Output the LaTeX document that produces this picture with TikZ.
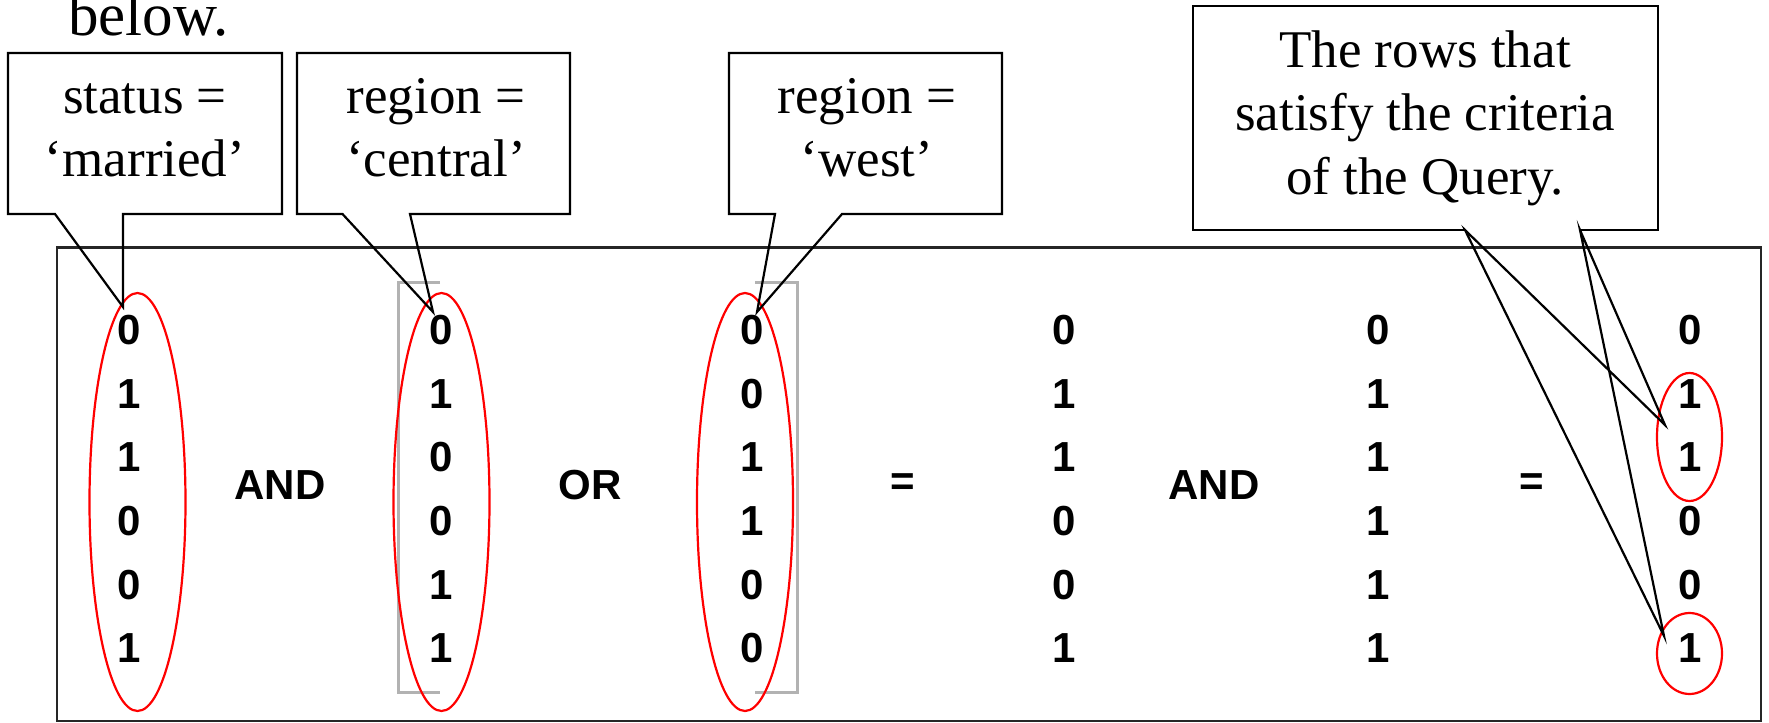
\documentclass[tikz,border=0pt]{standalone}
\usepackage{fontspec}
\setmainfont{Liberation Serif}
\newfontfamily\arialfont{Liberation Sans}
\begin{document}
\begin{tikzpicture}[x=0.5pt,y=-0.5pt,
  box/.style={draw=black, line width=1.1pt, line join=miter},
  frame/.style={draw=black!85, line width=1.3pt},
  hl/.style={draw=red, line width=1.1pt},
  brk/.style={draw=black!30, line width=1.5pt},
  dig/.style={font=\arialfont\bfseries\fontsize{21}{25}\selectfont, inner sep=0pt},
  lbl/.style={font=\fontsize{26.5}{31.8}\selectfont, inner sep=0pt, anchor=base}
]
\useasboundingbox (0,0) rectangle (1769,723);

% heading fragment
\node[font=\fontsize{30.5}{36}\selectfont, anchor=base west, inner sep=0pt] (below) at (68,35) {below.};

% main frame
\draw[frame] (57,247.5) rectangle (1761,721);

% gray brackets
\draw[brk] (440,282) -- (398,282) -- (398,692) -- (440,692);
\draw[brk] (755,282) -- (797,282) -- (797,692) -- (755,692);

% digit columns
\foreach \c/\x/\vals in {1/129/{0,1,1,0,0,1}, 2/441/{0,1,0,0,1,1}, 3/752/{0,0,1,1,0,0}, 4/1064/{0,1,1,0,0,1}, 5/1378/{0,1,1,1,1,1}, 6/1690/{0,1,1,0,0,1}}
  \foreach \v [count=\r] in \vals
    \node[dig] (d\c-\r) at (\x,{330+63.66*(\r-1)}) {\v};

% operators
\node[dig] (and1) at (280,485) {AND};
\node[dig] (or1) at (590,485) {OR};
\node[dig] (eq1) at (903,485) {=};
\node[dig] (and2) at (1214,485) {AND};
\node[dig] (eq2) at (1532,485) {=};

% red ellipses
\draw[hl] (137.5,502) ellipse [x radius=48, y radius=209];
\draw[hl] (441.5,502) ellipse [x radius=48, y radius=209];
\draw[hl] (745,502) ellipse [x radius=48, y radius=209];
\draw[hl] (1689.5,437) ellipse [x radius=32.5, y radius=64];
\draw[hl] (1689.5,653.5) ellipse [x radius=32.5, y radius=40.5];

% pointer tips
\coordinate (t1) at (123,307);
\coordinate (t2) at (433,312);
\coordinate (t3) at (757,312);
\coordinate (t4a) at (1665,425);
\coordinate (t4b) at (1664,636);

% callouts
\draw[box] (8,53) -- (282,53) -- (282,214) -- (123,214) -- (t1) -- (55,214) -- (8,214) -- cycle;
\node[lbl] (c1) at (145,113) {\begin{tabular}[t]{@{}c@{}}status =\\ ‘married’\end{tabular}};

\draw[box] (297,53) -- (570,53) -- (570,214) -- (410,214) -- (t2) -- (342.5,214) -- (297,214) -- cycle;
\node[lbl] (c2) at (436,113) {\begin{tabular}[t]{@{}c@{}}region =\\ ‘central’\end{tabular}};

\draw[box] (729,53) -- (1002,53) -- (1002,214) -- (842,214) -- (t3) -- (775,214) -- (729,214) -- cycle;
\node[lbl] (c3) at (867,113) {\begin{tabular}[t]{@{}c@{}}region =\\ ‘west’\end{tabular}};

\draw[box] (1465,230) -- (1193,230) -- (1193,6) -- (1658,6) -- (1658,230) -- (1580,230);
\draw[box] (1465,230) -- (t4a) -- (1580,230) -- (t4b) -- cycle;
\node[lbl] (c4) at (1425,67) {\begin{tabular}[t]{@{}c@{}}The rows that\\ satisfy the criteria\\ of the Query.\end{tabular}};
\end{tikzpicture}
\end{document}
